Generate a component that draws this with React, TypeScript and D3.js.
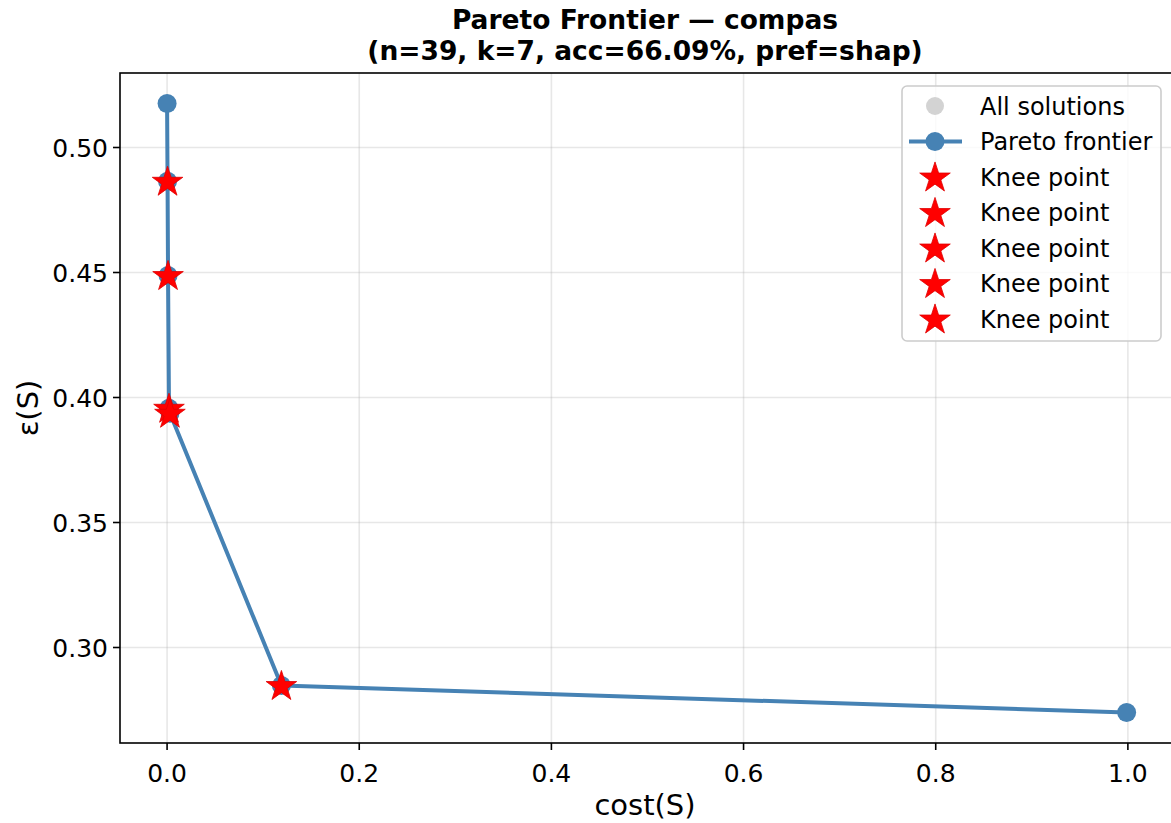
import React from "react";
import * as d3 from "d3";

// frontier points (cost, epsilon)
const frontierCost = [0.0, 0.0005, 0.001, 0.002, 0.003, 0.119, 0.9987];
const frontierEps = [0.5176, 0.4865, 0.4488, 0.3957, 0.3937, 0.2848, 0.274];
// all solutions coincide with the frontier points in the picture
const allCost = frontierCost;
const allEps = frontierEps;
// knee points (indices into the frontier)
const kneeIdx = [1, 2, 3, 4, 5];

const xTicks = [0.0, 0.2, 0.4, 0.6, 0.8, 1.0];
const yTicks = [0.3, 0.35, 0.4, 0.45, 0.5];
const legendLabels = ["All solutions", "Pareto frontier", "Knee point", "Knee point", "Knee point", "Knee point", "Knee point"];

const W = 1171;
const H = 823;
const left = 120, right = 1174, top = 73, bottom = 743;
const font = "DejaVu Sans, sans-serif";
const blue = "#4682b4";

const App = () => {
  const x = d3.scaleLinear().domain([-0.049, 1.048]).range([left, right]);
  const y = d3.scaleLinear().domain([0.2618, 0.5298]).range([bottom, top]);

  const pts = frontierCost.map((c, i) => [c, frontierEps[i]] as [number, number]);
  const line = d3.line<[number, number]>().x(d => x(d[0])).y(d => y(d[1]));
  const star = d3.symbol().type(d3.symbolStar).size(290)();

  const fmtX = d3.format(".1f");
  const fmtY = d3.format(".2f");

  return (
    <svg width={W} height={H} style={{ position: "absolute", left: 0, top: 0 }} fontFamily={font}>
      <rect width={W} height={H} fill="white" />
      {/* grid */}
      {xTicks.map(t => (
        <line key={"gx" + t} x1={x(t)} x2={x(t)} y1={top} y2={bottom} stroke="#b0b0b0" strokeOpacity={0.3} strokeWidth={1.6} />
      ))}
      {yTicks.map(t => (
        <line key={"gy" + t} x1={left} x2={right} y1={y(t)} y2={y(t)} stroke="#b0b0b0" strokeOpacity={0.3} strokeWidth={1.6} />
      ))}

      {/* all solutions */}
      {allCost.map((c, i) => (
        <circle key={"a" + i} cx={x(c)} cy={y(allEps[i])} r={9} fill="#d3d3d3" />
      ))}

      {/* frontier */}
      <path d={line(pts) || ""} fill="none" stroke={blue} strokeWidth={4} strokeLinejoin="round" />
      {pts.map((p, i) => (
        <circle key={"f" + i} cx={x(p[0])} cy={y(p[1])} r={9.5} fill={blue} />
      ))}

      {/* knee points */}
      {kneeIdx.map(k => (
        <path key={"k" + k} d={star || ""} transform={`translate(${x(pts[k][0])},${y(pts[k][1]) + 1})`} fill="red" stroke="#e00000" strokeWidth={0.8} />
      ))}

      {/* spines */}
      <rect x={left} y={top} width={right - left} height={bottom - top} fill="none" stroke="black" strokeWidth={1.6} />

      {/* ticks */}
      {xTicks.map(t => (
        <g key={"tx" + t}>
          <line x1={x(t)} x2={x(t)} y1={bottom} y2={bottom + 7} stroke="black" strokeWidth={1.6} />
          <text x={x(t)} y={bottom + 39} textAnchor="middle" fontSize={25}>{fmtX(t)}</text>
        </g>
      ))}
      {yTicks.map(t => (
        <g key={"ty" + t}>
          <line x1={left - 7} x2={left} y1={y(t)} y2={y(t)} stroke="black" strokeWidth={1.6} />
          <text x={left - 12} y={y(t) + 9} textAnchor="end" fontSize={25}>{fmtY(t)}</text>
        </g>
      ))}

      {/* axis labels */}
      <text x={(left + 1170) / 2} y={815} textAnchor="middle" fontSize={29}>cost(S)</text>
      <text transform={`translate(38,${(top + bottom) / 2}) rotate(-90)`} textAnchor="middle" fontSize={29}>ε(S)</text>

      {/* title */}
      <text x={(left + 1170) / 2} y={29} textAnchor="middle" fontSize={26.5} fontWeight="bold">Pareto Frontier — compas</text>
      <text x={(left + 1170) / 2} y={60} textAnchor="middle" fontSize={26.5} fontWeight="bold">(n=39, k=7, acc=66.09%, pref=shap)</text>

      {/* legend */}
      <rect x={902} y={86} width={259} height={255} rx={5} fill="white" fillOpacity={0.8} stroke="#cccccc" strokeWidth={1.6} />
      {legendLabels.map((lab, i) => {
        const cy = 106 + i * 35.5;
        return (
          <g key={"l" + i}>
            {i === 0 && <circle cx={935} cy={cy} r={9} fill="#d3d3d3" />}
            {i === 1 && (
              <g>
                <line x1={909} x2={962} y1={cy} y2={cy} stroke={blue} strokeWidth={4} />
                <circle cx={935} cy={cy} r={9.5} fill={blue} />
              </g>
            )}
            {i >= 2 && <path d={star || ""} transform={`translate(935,${cy + 1})`} fill="red" stroke="#e00000" strokeWidth={0.8} />}
            <text x={980} y={cy + 8.5} fontSize={24}>{lab}</text>
          </g>
        );
      })}
    </svg>
  );
};

export default App;
